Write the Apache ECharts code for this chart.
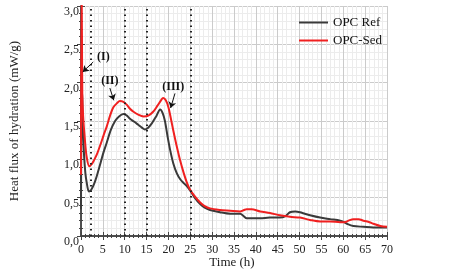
<!DOCTYPE html>
<html>
<head>
<meta charset="utf-8">
<script src="https://cdn.jsdelivr.net/npm/echarts@6/dist/echarts.min.js"></script>
<style>
  html, body { margin: 0; padding: 0; background: #fff; }
  #chart { width: 450px; height: 270px; }
</style>
</head>
<body>
<div id="chart"></div>
<script>
// OPC Ref, [time h, heat flux mW/g]
const opcRef = [
  [0, 0.35], [0.1, 1.6], [0.25, 1.9], [0.4, 1.5], [0.7, 1.05], [1.0, 0.82], [1.3, 0.7],
  [1.8, 0.58], [2.3, 0.6], [3.0, 0.68], [3.6, 0.78], [4.5, 0.96], [5.2, 1.1], [5.9, 1.22],
  [6.8, 1.38], [7.8, 1.5], [8.7, 1.56], [9.7, 1.59], [10.5, 1.57], [11.2, 1.53], [12.2, 1.49],
  [13.1, 1.45], [14.0, 1.41], [14.6, 1.39], [15.3, 1.41], [16.2, 1.47], [17.2, 1.56], [18.1, 1.65],
  [18.7, 1.6], [19.2, 1.5], [19.8, 1.3], [20.4, 1.12], [21.1, 0.95], [21.9, 0.82], [22.7, 0.74],
  [23.5, 0.69], [24.2, 0.65], [25, 0.59], [26, 0.5], [27.2, 0.42], [28.3, 0.37], [29.5, 0.34],
  [31.8, 0.31], [34.1, 0.29], [36.4, 0.29], [37.2, 0.26], [37.9, 0.23], [39.5, 0.23], [41, 0.23],
  [43.2, 0.24], [45.5, 0.24], [46.8, 0.26], [47.8, 0.31], [49, 0.32], [50.1, 0.31], [51.2, 0.29],
  [52.4, 0.27], [54.7, 0.24], [57, 0.22], [59.3, 0.2], [60.2, 0.18], [60.8, 0.16], [62.3, 0.13],
  [64.6, 0.12], [66.9, 0.11], [70, 0.11]
];
// OPC-Sed
const opcSed = [
  [0, 0.8], [0.12, 3.3], [0.22, 2.6], [0.3, 1.85], [0.5, 1.55], [0.9, 1.25], [1.3, 1.03],
  [1.9, 0.91], [2.5, 0.94], [3.0, 0.99], [3.6, 1.06], [4.5, 1.2], [5.2, 1.32], [5.9, 1.43],
  [6.7, 1.58], [7.4, 1.68], [8.2, 1.73], [8.9, 1.76], [9.7, 1.75], [10.5, 1.71], [11.2, 1.66],
  [12.0, 1.62], [13.2, 1.58], [14.3, 1.56], [15.4, 1.57], [16.5, 1.62], [17.5, 1.7], [18.3, 1.77],
  [18.8, 1.8], [19.4, 1.77], [20.0, 1.68], [20.6, 1.52], [21.1, 1.38], [21.9, 1.17], [22.7, 0.98],
  [23.5, 0.82], [24.2, 0.7], [24.9, 0.61], [26, 0.52], [27.2, 0.44], [28.3, 0.39], [29.5, 0.36],
  [31.8, 0.34], [34.1, 0.33], [36.4, 0.32], [37.3, 0.34], [37.9, 0.35], [39, 0.35], [41, 0.32],
  [43.2, 0.3], [45.5, 0.27], [47.8, 0.25], [50.1, 0.24], [52.4, 0.21], [54.7, 0.19], [57, 0.19],
  [59.3, 0.18], [60.3, 0.18], [61.2, 0.2], [62.3, 0.22], [63.5, 0.22], [64.6, 0.2], [66, 0.18],
  [66.9, 0.16], [68.5, 0.13], [70, 0.12]
];
// dotted guide lines (h)
const stageLines = [2.3, 10, 15, 25];
// annotations: label, label pos, arrow from, arrow to
const notes = [
  { name: '(I)', at: [5.1, 2.34], from: [2.8, 2.27], to: [0.4, 2.14] },
  { name: '(II)', at: [6.6, 2.02], from: [6.6, 1.93], to: [7.5, 1.77] },
  { name: '(III)', at: [21.1, 1.95], from: [21.5, 1.86], to: [20.5, 1.67] }
];

const font = 'Liberation Serif';
const axisColor = '#444';

const chart = echarts.init(document.getElementById('chart'));
chart.setOption({
  animation: false,
  textStyle: { fontFamily: font },
  title: {
    text: 'Time (h)',
    left: 232, top: 256, textAlign: 'center', padding: 0,
    textStyle: { fontFamily: font, fontSize: 13, fontWeight: 'normal', color: '#222' }
  },
  grid: { left: 81, right: 63, top: 6, bottom: 34, outerBoundsMode: 'none' },
  legend: {
    orient: 'vertical',
    left: 294,
    top: 11,
    itemWidth: 29,
    itemHeight: 2,
    itemGap: 5,
    icon: 'rect',
    textStyle: { fontFamily: font, fontSize: 13, color: '#111' },
    data: ['OPC Ref', 'OPC-Sed']
  },
  xAxis: [{
    type: 'value', min: 0, max: 70, interval: 5,
    axisLine: { lineStyle: { color: axisColor, width: 1.5 } },
    axisTick: { inside: true, length: 4, lineStyle: { color: axisColor } },
    minorTick: { show: true, splitNumber: 5, length: 2, lineStyle: { color: axisColor } },
    axisLabel: { fontFamily: font, fontSize: 12, color: '#222', margin: 8 },
    splitLine: { show: true, lineStyle: { color: '#cbcbcb' } },
    minorSplitLine: { show: true, lineStyle: { color: '#ececec' } }
  }, {
    type: 'value', min: 0, max: 70, interval: 5, position: 'top',
    axisLine: { show: true, lineStyle: { color: axisColor, width: 1.5 } },
    axisTick: { inside: true, length: 4, lineStyle: { color: axisColor } },
    minorTick: { show: true, splitNumber: 5, length: 2, lineStyle: { color: axisColor } },
    axisLabel: { show: false },
    splitLine: { show: false }
  }],
  yAxis: [{
    type: 'value', min: 0, max: 3, interval: 0.5,
    name: 'Heat flux of hydration (mW/g)', nameLocation: 'middle', nameGap: 60,
    nameTextStyle: { fontFamily: font, fontSize: 13, color: '#222' },
    axisLine: { show: true, lineStyle: { color: axisColor, width: 1.5 } },
    axisTick: { show: true, inside: true, length: 4, lineStyle: { color: axisColor } },
    minorTick: { show: true, splitNumber: 5, length: 2, lineStyle: { color: axisColor } },
    axisLabel: {
      fontFamily: font, fontSize: 12, color: '#222', margin: 2,
      verticalAlign: 'top',
      formatter: v => v.toFixed(1).replace('.', ',')
    },
    splitLine: { show: true, lineStyle: { color: '#cbcbcb' } },
    minorSplitLine: { show: true, lineStyle: { color: '#ececec' } }
  }, {
    type: 'value', min: 0, max: 3, interval: 0.5, position: 'right',
    axisLine: { show: true, lineStyle: { color: axisColor, width: 1.5 } },
    axisTick: { show: true, inside: true, length: 4, lineStyle: { color: axisColor } },
    minorTick: { show: true, splitNumber: 5, length: 2, lineStyle: { color: axisColor } },
    axisLabel: { show: false },
    splitLine: { show: false }
  }],
  series: [{
    name: 'OPC Ref',
    type: 'line',
    data: opcRef,
    showSymbol: false,
    smooth: 0.3,
    color: '#3a3a3a',
    lineStyle: { width: 2, color: '#3a3a3a' },
    markLine: {
      silent: true,
      symbol: 'none',
      label: { show: false },
      lineStyle: { type: [1.5, 4], color: '#222', width: 2 },
      data: stageLines.map(x => ({ xAxis: x }))
    }
  }, {
    name: 'OPC-Sed',
    type: 'line',
    data: opcSed,
    showSymbol: false,
    smooth: 0.3,
    color: '#f02020',
    lineStyle: { width: 2, color: '#f02020' },
    markLine: {
      silent: true,
      symbol: ['none', 'arrow'],
      symbolSize: 6,
      label: { show: false },
      lineStyle: { type: 'solid', color: '#111', width: 1 },
      data: notes.map(n => [{ coord: n.from }, { coord: n.to }])
    },
    markPoint: {
      silent: true,
      symbol: 'circle',
      symbolSize: 0,
      label: {
        show: true, position: 'inside', formatter: '{b}',
        fontFamily: font, fontSize: 12, fontWeight: 'bold', color: '#111'
      },
      data: notes.map(n => ({ name: n.name, coord: n.at }))
    }
  }]
});
</script>
</body>
</html>
